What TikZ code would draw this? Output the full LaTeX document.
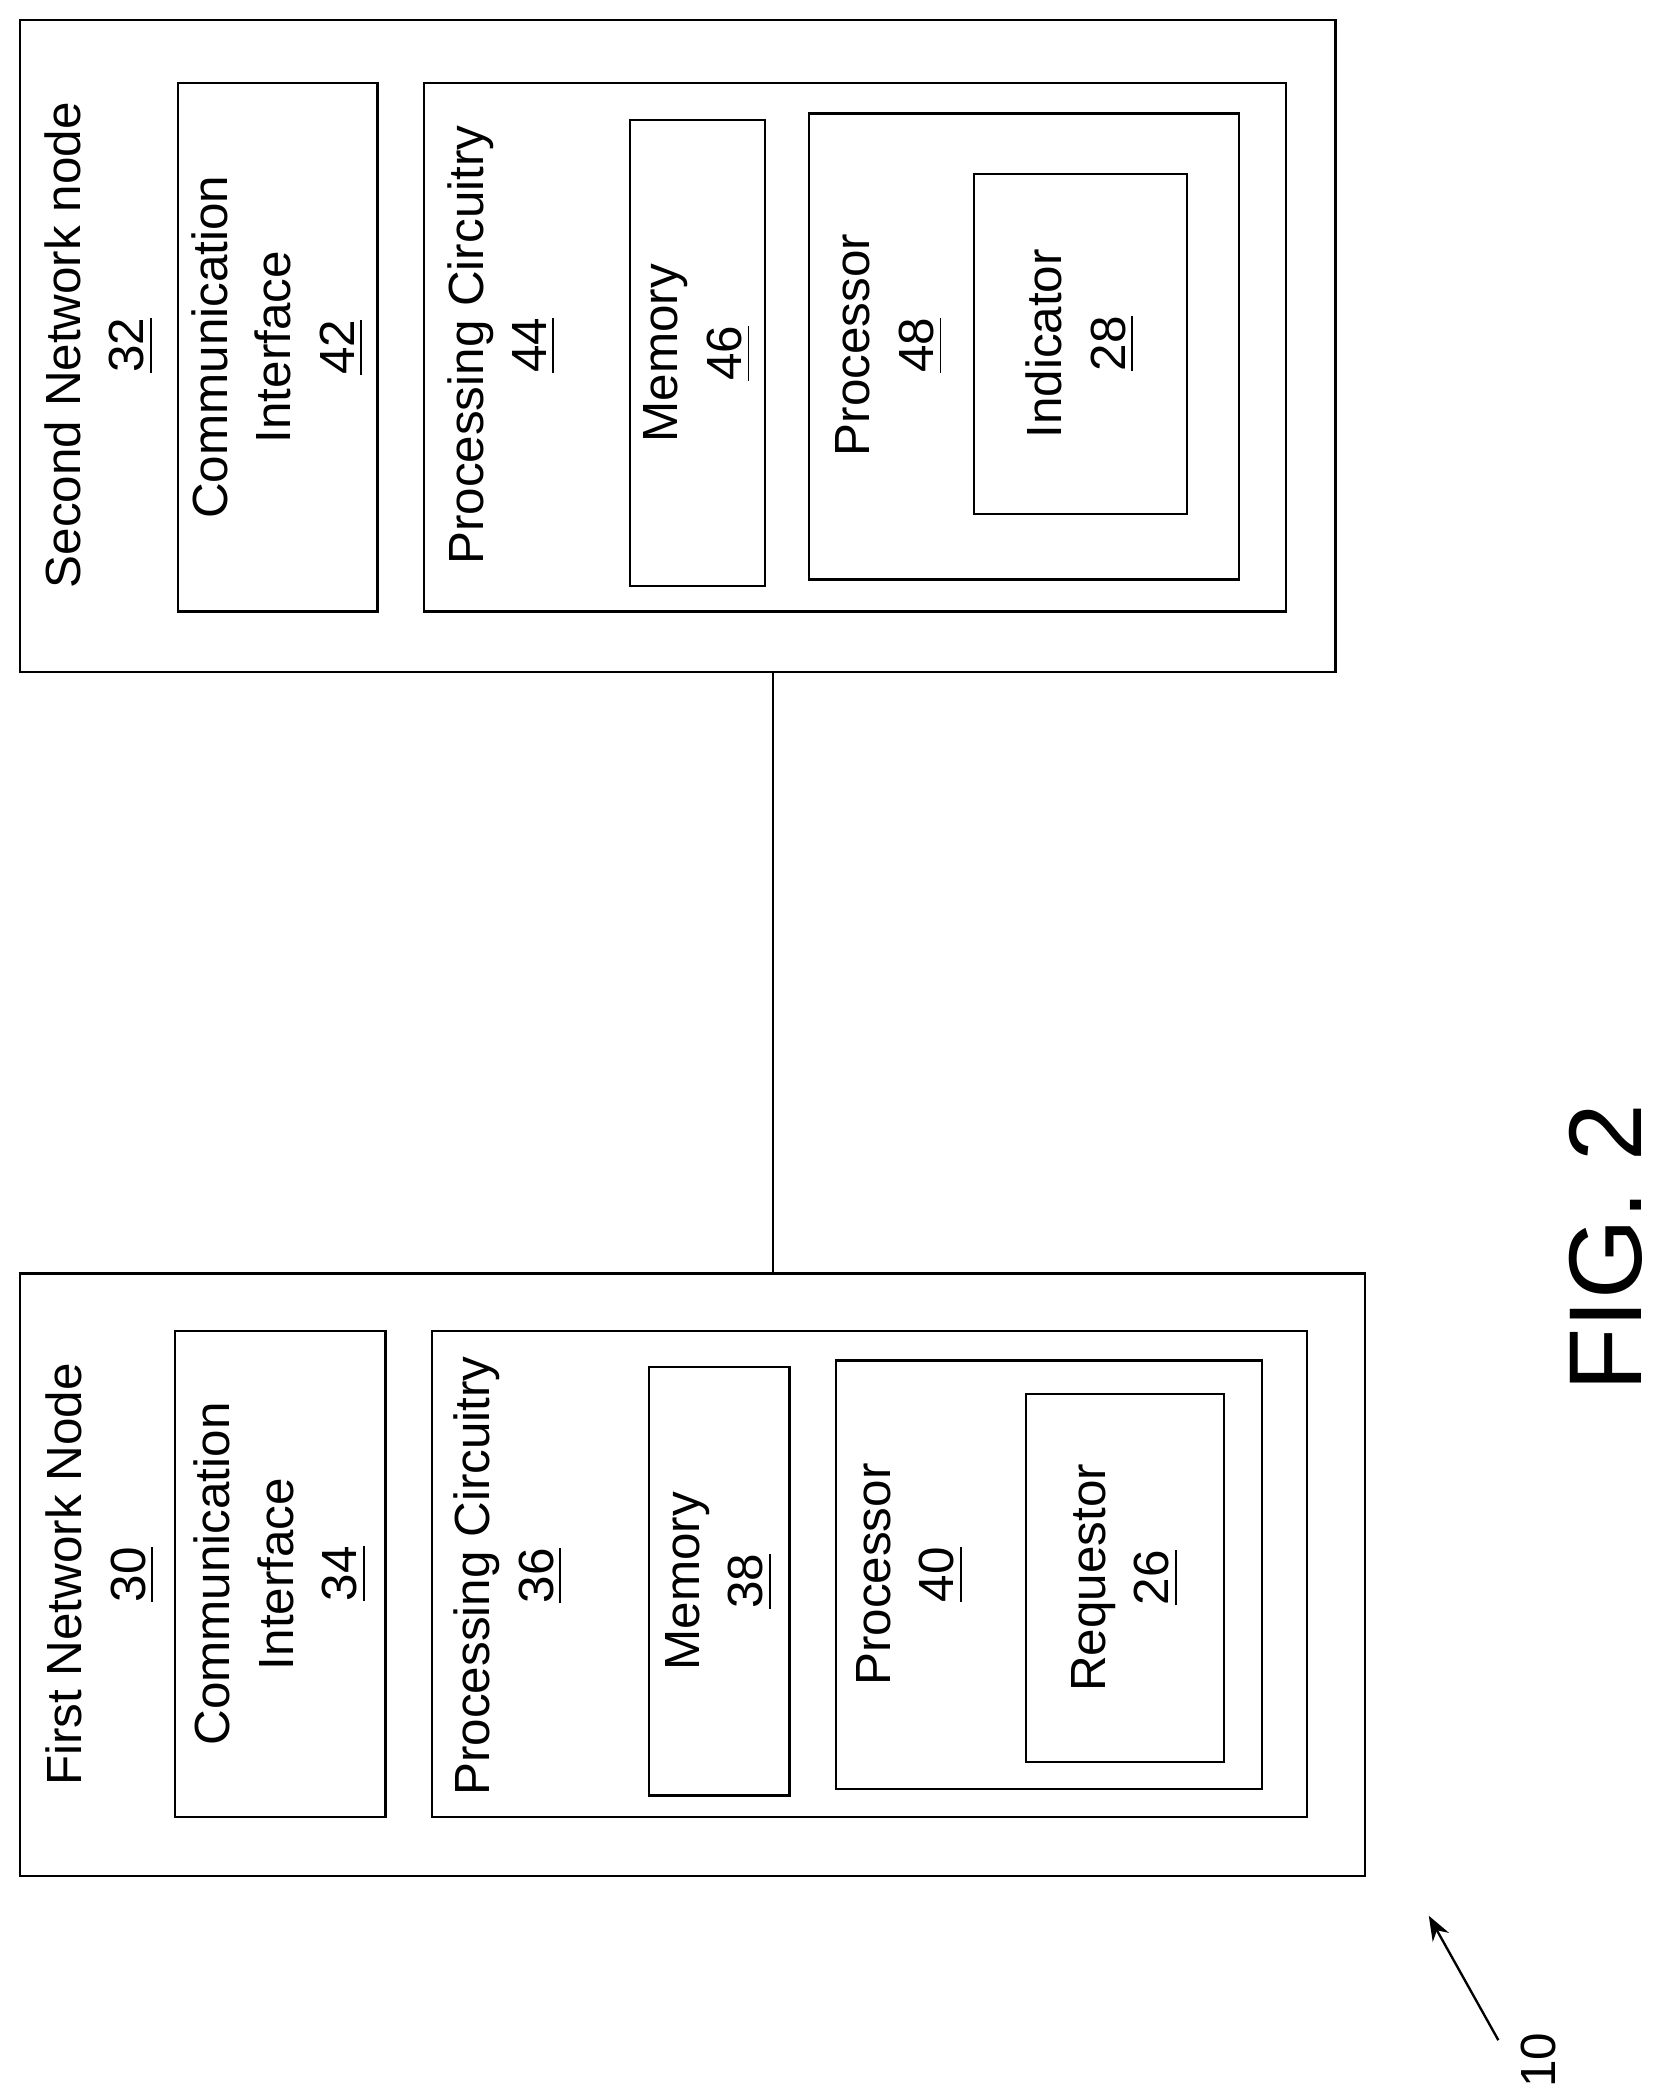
\documentclass[tikz,border=0pt]{standalone}
\usepackage{fontspec}
\setmainfont{Liberation Sans}
\usetikzlibrary{arrows.meta,positioning}

\begin{document}
\begin{tikzpicture}[
  x=0.01cm, y=-0.01cm,
  >=Stealth,
  every path/.style={line width=0.5pt},
  unit/.style={
    rectangle,
    draw,
    inner sep=0pt
  },
  caption/.style={
    rotate=90,
    align=center,
    inner sep=0pt,
    font=\fontsize{10.5}{13.5}\selectfont
  }
]
\useasboundingbox (0,0) rectangle (1245,1563);

% Second network node
\node[unit, minimum width=9.83cm, minimum height=4.87cm] (node2) at (506.5,258.5) {};
\node[caption] (node2label) at (74,258) {Second Network node\\\underline{32}};
\node[unit, minimum width=1.49cm, minimum height=3.95cm] (comm2) at (207.5,259.5) {};
\node[caption] at (comm2.center) {Communication\\Interface\\\underline{42}};
\node[unit, minimum width=6.44cm, minimum height=3.95cm] (proc2) at (639,259.5) {};
\node[caption] (proc2label) at (375,258) {Processing Circuitry\\\underline{44}};
\node[unit, minimum width=1.01cm, minimum height=3.48cm] (mem2) at (521.5,264) {};
\node[caption] at (mem2.center) {Memory\\\underline{46}};
\node[unit, minimum width=3.21cm, minimum height=3.48cm] (cpu2) at (765.5,259) {};
\node[caption] (cpu2label) at (665,258) {Processor\\\underline{48}};
\node[unit, minimum width=1.59cm, minimum height=2.54cm] (ind) at (807.5,257) {};
\node[caption] at (ind.center) {Indicator\\\underline{28}};

% First network node
\node[unit, minimum width=10.05cm, minimum height=4.50cm] (node1) at (517.5,1177) {};
\node[caption] (node1label) at (75,1177) {First Network Node\\\underline{30}};
\node[unit, minimum width=1.57cm, minimum height=3.63cm] (comm1) at (209.5,1176.5) {};
\node[caption] at (comm1.center) {Communication\\Interface\\\underline{34}};
\node[unit, minimum width=6.54cm, minimum height=3.63cm] (proc1) at (650,1176.5) {};
\node[caption] (proc1label) at (380,1178) {Processing Circuitry\\\underline{36}};
\node[unit, minimum width=1.05cm, minimum height=3.20cm] (mem1) at (537.5,1182) {};
\node[caption] at (mem1.center) {Memory\\\underline{38}};
\node[unit, minimum width=3.18cm, minimum height=3.20cm] (cpu1) at (784,1177) {};
\node[caption] (cpu1label) at (680,1177) {Processor\\\underline{40}};
\node[unit, minimum width=1.48cm, minimum height=2.75cm] (req) at (841,1179.5) {};
\node[caption] at (req.center) {Requestor\\\underline{26}};

% Link
\draw (node2.south -| 578,0) -- (node1.north -| 578,0);

% Figure label
\node[rotate=90, font=\fontsize{22}{24}\selectfont, inner sep=0pt] (fig) at (1200,933) {FIG. 2};
\node[rotate=90, font=\fontsize{10.5}{12}\selectfont, inner sep=0pt] (ref) at (1150,1540) {10};
\coordinate (tip) at (1068,1432);
\draw[->] (1120,1525) -- (tip);

\end{tikzpicture}
\end{document}
